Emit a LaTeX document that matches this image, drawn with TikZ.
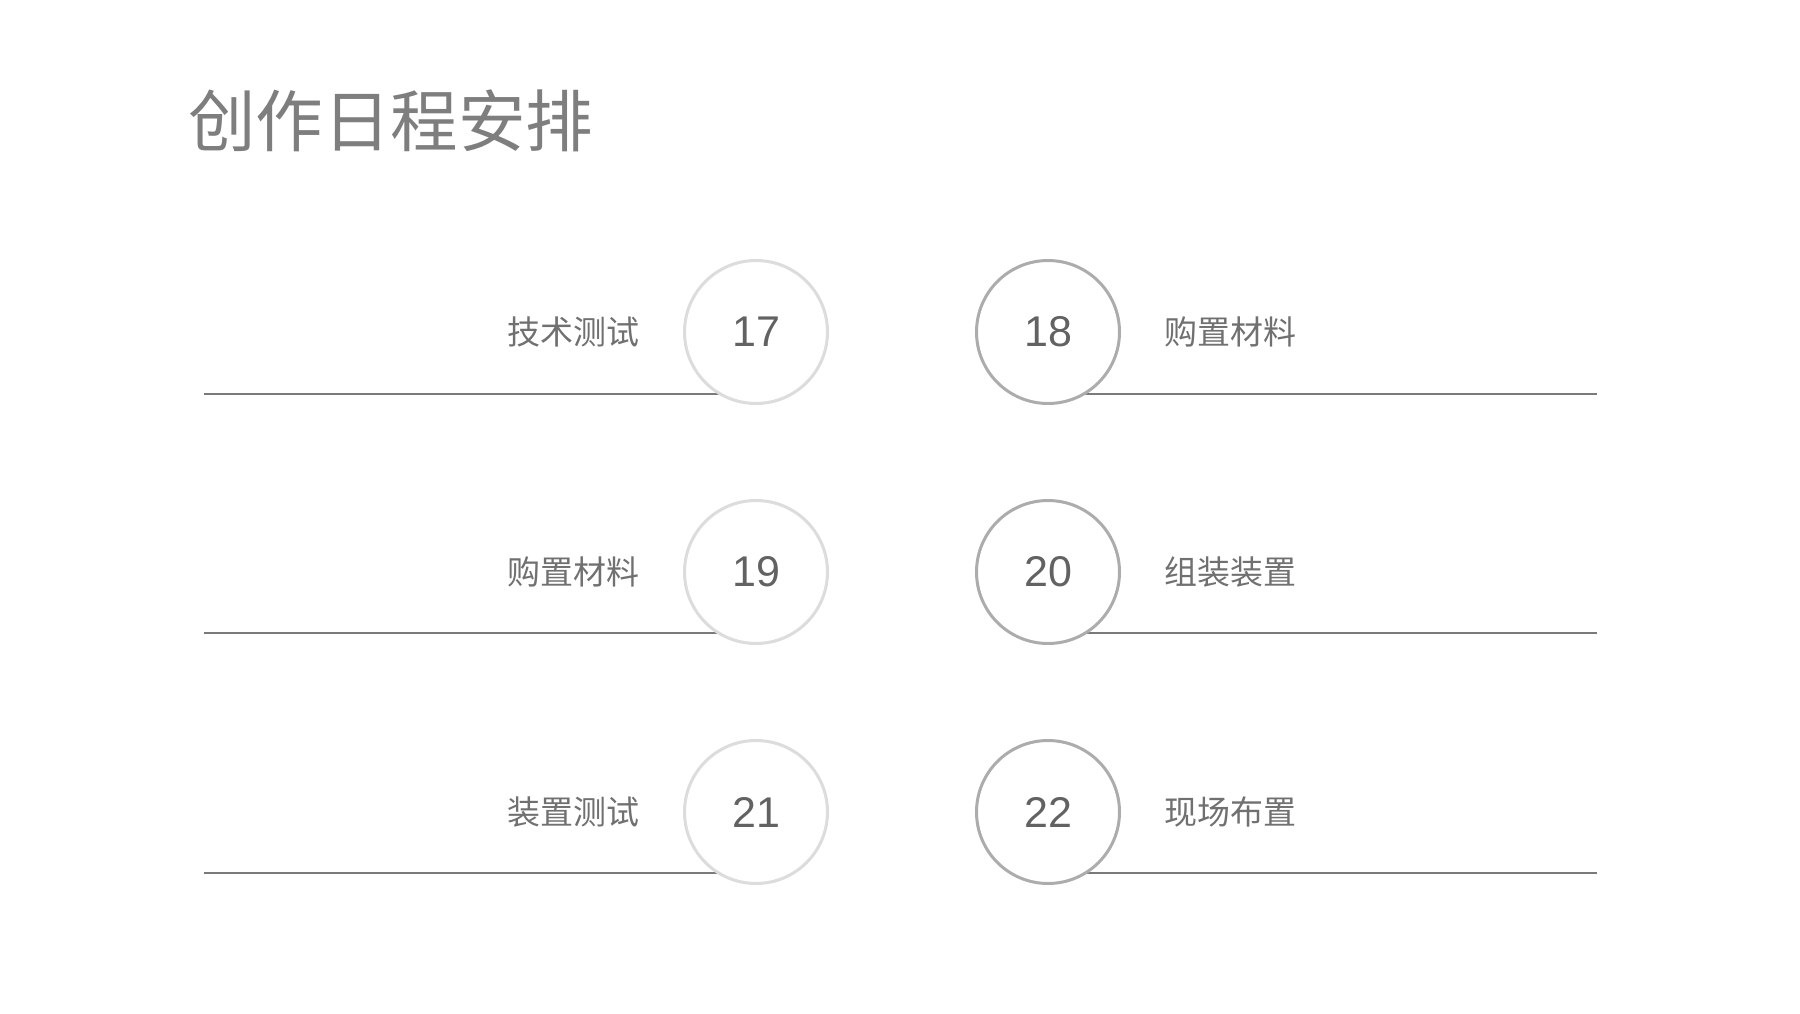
\documentclass[tikz,border=0pt]{standalone}
\usepackage{fontspec}
\setmainfont{Noto Sans CJK SC}
\newfontfamily\digitfont{Liberation Sans}
\definecolor{ringlight}{HTML}{DCDCDC}
\definecolor{ringdark}{HTML}{ACACAC}
\definecolor{rulegray}{HTML}{7A7A7A}
\definecolor{textgray}{HTML}{707070}
\tikzset{
  ringl/.style={circle, draw=ringlight, fill=white, line width=3pt, minimum size=143pt, inner sep=0pt},
  ringr/.style={circle, draw=ringdark, fill=white, line width=3pt, minimum size=143pt, inner sep=0pt},
  daynum/.style={text=textgray!110, font=\digitfont\fontsize{43}{43}\selectfont},
  tasktext/.style={text=textgray, font=\fontsize{33}{33}\selectfont, inner sep=0pt},
  baseline/.style={draw=rulegray, line width=2.8pt}
}
\begin{document}
\begin{tikzpicture}[x=1pt, y=-1pt]
	\useasboundingbox (0,0) rectangle (1800,1013);
	\node[anchor=west, inner sep=0pt, text=textgray!90, font=\fontsize{67.5}{67.5}\selectfont] (title) at (188,121){创作日程安排};
	% base lines
	\coordinate (a17) at (204,394);
	\coordinate (b17) at (756,394);
	\coordinate (a18) at (1048,394);
	\coordinate (b18) at (1597,394);
	\coordinate (a19) at (204,633);
	\coordinate (b19) at (756,633);
	\coordinate (a20) at (1048,633);
	\coordinate (b20) at (1597,633);
	\coordinate (a21) at (204,873);
	\coordinate (b21) at (756,873);
	\coordinate (a22) at (1048,873);
	\coordinate (b22) at (1597,873);
	\draw[baseline] (a17) -- (b17);
	\draw[baseline] (a18) -- (b18);
	\draw[baseline] (a19) -- (b19);
	\draw[baseline] (a20) -- (b20);
	\draw[baseline] (a21) -- (b21);
	\draw[baseline] (a22) -- (b22);
	% day circles
	\node[ringl, daynum] (c17) at (756,332){17};
	\node[ringr, daynum] (c18) at (1048,332){18};
	\node[ringl, daynum] (c19) at (756,572){19};
	\node[ringr, daynum] (c20) at (1048,572){20};
	\node[ringl, daynum] (c21) at (756,812){21};
	\node[ringr, daynum] (c22) at (1048,812){22};
	% tasks
	\node[tasktext, anchor=east] (t17) at (640,332){技术测试};
	\node[tasktext, anchor=west] (t18) at (1164,332){购置材料};
	\node[tasktext, anchor=east] (t19) at (640,572){购置材料};
	\node[tasktext, anchor=west] (t20) at (1164,572){组装装置};
	\node[tasktext, anchor=east] (t21) at (640,812){装置测试};
	\node[tasktext, anchor=west] (t22) at (1164,812){现场布置};
\end{tikzpicture}
\end{document}
